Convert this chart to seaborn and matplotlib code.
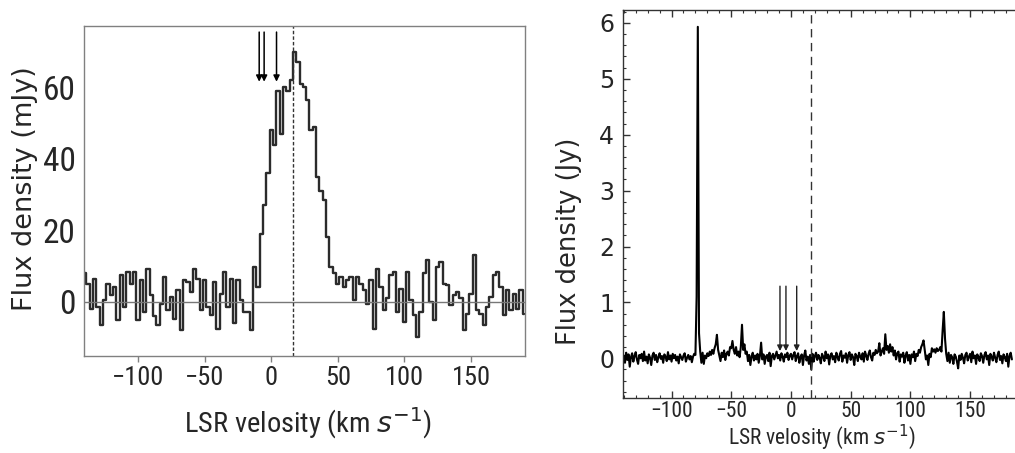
import os
import numpy as np
import pandas as pd
import matplotlib
matplotlib.use("Agg")
import matplotlib.pyplot as plt
import seaborn as sns
from matplotlib import font_manager as fm
from matplotlib.ticker import MultipleLocator

# ---- left panel: weak line, 2.5 km/s channels (mJy) ----
left_v0, left_dv = -140.0, 2.5
left_flux = [
    8, 5, -2, 6.5, -1.5, -6.5, 0.5, 5, 2, 4,
    -5, 7.5, -1.4, 8.4, 5, 8.4, -5, 6, -3, 9.3,
    2, -4, -6.5, -0.5, 7, -2.3, 1.4, -4.7, 3.3, -8,
    6, 5.6, 2.8, 9.3, 6.5, -2.3, 6, -1.4, -3.7, 5.6,
    -7.5, 2.3, 8.4, -1.4, 6.5, -6, 6, 0.5, -3, -3,
    -8, 9.8, 4, 19, 27, 36, 48, 44, 59, 47,
    60, 59, 62, 70, 67, 61, 60, 56.5, 48, 49,
    35, 31, 28.5, 18, 9.8, 8, 5, 7, 4.2, 6,
    7, 0.5, 7, 5, 3.3, -0.5, 6, -7.5, 9.3, 4.2,
    -2.3, 1, 7.5, 8.4, -2.8, 3.7, -5.6, 8.4, 0.5, -3.7,
    -9.8, -2.8, 8, 11.7, 0, -5, 9.8, 11.2, 5, 4.7,
    -1, 1.9, 2.8, 1, -8, -3.3, 2.3, 13, -2.3, -3.3,
    -6.5, -1.4, 1.4, 7.5, 8.4, 4.2, -3.7, 3.3, -2.3, 2.3,
    -1.9, 3.3, -3.3,
]

# ---- right panel: maser spectrum, 1 km/s channels (Jy) ----
right_v0, right_dv = -140.0, 1.0
right_flux = [
    0.05, -0.08, 0.10, -0.03, 0.07, -0.15, 0.02, 0.09, -0.06, 0.04,
    0.11, -0.02, -0.10, 0.06, 0.00, 0.08, -0.05, 0.12, -0.04, 0.03,
    -0.09, 0.07, 0.01, -0.12, 0.05, 0.10, -0.03, 0.06, -0.07, 0.02,
    0.09, -0.01, 0.04, -0.08, 0.07, 0.03, -0.05, 0.11, -0.02, 0.05,
    -0.06, 0.08, 0.00, 0.06, -0.04, 0.03, -0.09, 0.07, 0.02, -0.03,
    0.05, 0.09, -0.06, 0.01, 0.06, -0.02, 0.04, -0.07, 0.03, 0.08,
    0.06, 1.10, 5.93, 0.45, 0.12, -0.08, 0.10, -0.10, 0.05, 0.00,
    0.09, 0.04, 0.12, 0.06, 0.15, 0.08, 0.18, 0.25, 0.42, 0.15,
    0.05, -0.05, 0.10, 0.02, 0.14, -0.03, 0.08, 0.12, 0.05, 0.20,
    0.18, 0.31, 0.15, 0.08, 0.20, 0.05, 0.12, 0.02, 0.20, 0.60,
    0.15, 0.25, 0.08, 0.12, -0.05, 0.06, -0.12, 0.03, 0.10, -0.04,
    0.05, -0.02, 0.08, -0.08, 0.04, 0.28, -0.02, 0.07, -0.10, 0.03,
    0.06, -0.05, 0.10, -0.14, 0.04, 0.08, -0.02, 0.05, 0.12, 0.00,
    0.06, -0.04, 0.09, 0.03, -0.06, 0.07, 0.02, 0.10, -0.03, 0.05,
    0.08, -0.02, 0.06, 0.11, -0.05, 0.04, 0.09, -0.08, 0.02, 0.07,
    -0.12, 0.05, 0.14, -0.04, 0.03, -0.10, 0.06, -0.20, 0.08, -0.06,
    0.04, 0.10, -0.03, 0.06, 0.01, -0.09, 0.08, 0.03, -0.05, 0.12,
    0.00, 0.07, -0.11, 0.05, 0.09, -0.02, 0.04, -0.07, 0.10, 0.02,
    -0.04, 0.08, 0.13, -0.06, 0.05, 0.01, 0.09, -0.08, 0.06, 0.11,
    -0.03, 0.07, 0.02, -0.12, 0.08, 0.04, -0.05, 0.10, 0.03, -0.02,
    0.09, -0.06, 0.12, 0.05, -0.03, 0.08, 0.14, 0.02, -0.04, 0.10,
    0.06, 0.15, 0.09, 0.12, 0.27, 0.05, 0.12, 0.18, 0.08, 0.43,
    0.15, 0.22, 0.10, 0.25, 0.12, 0.20, 0.05, 0.14, -0.02, 0.09,
    0.12, -0.06, 0.07, 0.03, 0.10, -0.08, 0.05, 0.11, -0.04, 0.06,
    -0.10, 0.07, 0.02, 0.12, -0.05, 0.08, 0.04, 0.15, 0.10, 0.20,
    0.25, 0.32, 0.15, -0.02, 0.05, -0.12, 0.08, 0.02, 0.18, 0.12,
    0.16, 0.10, 0.18, 0.13, 0.15, 0.20, 0.12, 0.50, 0.83, 0.35,
    0.08, -0.05, 0.10, -0.08, 0.06, 0.02, -0.10, 0.07, 0.03, -0.06,
    -0.18, 0.05, -0.03, 0.08, 0.01, -0.09, 0.06, 0.10, -0.04, 0.03,
    0.08, -0.07, 0.12, 0.00, 0.05, -0.10, 0.07, 0.02, -0.05, 0.09,
    0.04, -0.08, 0.06, 0.11, -0.02, 0.05, -0.12, 0.08, 0.03, -0.04,
    0.10, 0.01, -0.07, 0.06, 0.12, -0.03, 0.04, -0.09, 0.07, 0.02,
    -0.05, 0.08, -0.15, 0.04, 0.10, -0.02,
]

v_sys = 16.5                          # dashed line
left_arrows = [-9.0, -5.3, 4.0]       # km/s
right_arrows = [-9.2, -4.2, 4.8]
left_arrow_span = (75.5, 61.6)        # mJy, tail -> head
right_arrow_span = (1.29, 0.13)       # Jy
left_xticks = [-100, -50, 0, 50, 100, 150]
left_yticks = [0, 20, 40, 60]
right_xticks = [-100, -50, 0, 50, 100, 150]

df_left = pd.DataFrame({"v": left_v0 + left_dv * np.arange(len(left_flux)),
                        "flux": left_flux})
df_right = pd.DataFrame({"v": right_v0 + right_dv * np.arange(len(right_flux)),
                         "flux": right_flux})

sns.set_style("white")
plt.rcParams["font.family"] = ["DejaVu Sans"]


def pick_narrow():
    # the reference text is horizontally squeezed: use a narrow face if any is installed
    prefs = ["liberationsansnarrow-regular", "robotocondensed-regular",
             "notosans-extracondensed.", "notosans-condensed.", "dejavusanscondensed.",
             "opensans-condensed", "notosans-semicondensed.", "condensed", "narrow"]
    bad = ["bold", "italic", "oblique", "light", "thin", "medium", "black", "semi"]
    best, rank = None, len(prefs)
    for f in fm.fontManager.ttflist:
        fn = os.path.basename(f.fname).lower()
        for i, p in enumerate(prefs):
            if p in fn and i < rank:
                if any(b in fn.replace(p, "") for b in bad):
                    continue
                best, rank = f.fname, i
    return best


narrow_path = pick_narrow()


def fp(size, narrow=True):
    if narrow and narrow_path:
        return fm.FontProperties(fname=narrow_path, size=size)
    return fm.FontProperties(family="DejaVu Sans", size=size)


def lab(ticks):
    return [f"{t:g}".replace("-", "\u2212") for t in ticks]


fig = plt.figure(figsize=(10.15, 4.53), dpi=100)
W, H = 1015.0, 453.0
ax1 = fig.add_axes([84 / W, 97 / H, 441 / W, 330 / H])
ax2 = fig.add_axes([622.7 / W, 55.3 / H, (W - 622.7) / W, 388.2 / H])

# ---------- left ----------
sns.lineplot(data=df_left, x="v", y="flux", ax=ax1, estimator=None, sort=False,
             drawstyle="steps-mid", color="#2b2b2b", lw=1.7)
ax1.axhline(0, color="#777777", lw=1)
ax1.axvline(v_sys, color="#333333", lw=1, ls=(0, (2.5, 1.5)))
for v in left_arrows:
    ax1.annotate("", xy=(v, left_arrow_span[1]), xytext=(v, left_arrow_span[0]),
                 arrowprops=dict(arrowstyle="-|>", color="black", lw=1.1,
                                 mutation_scale=9, shrinkA=0, shrinkB=0))
ax1.set_xlim(-140.5, 190.5)
ax1.set_ylim(-15.2, 77.2)
ax1.set_xticks(left_xticks)
ax1.set_xticklabels(lab(left_xticks), fontproperties=fp(19))
ax1.set_yticks(left_yticks)
ax1.set_yticklabels(lab(left_yticks), fontproperties=fp(24))
for s in ax1.spines.values():
    s.set_color("#808080")
    s.set_linewidth(1)
ax1.tick_params(axis="x", direction="out", length=4, width=1, color="#808080",
                pad=3, bottom=True)
ax1.tick_params(axis="y", length=0, pad=6)
ax1.set_xlabel(r"LSR velosity (km $s^{-1}$)", fontproperties=fp(20.5), va="top")
ax1.xaxis.set_label_coords(0.509, -0.148)
ax1.set_ylabel("Flux density (mJy)", fontproperties=fp(19.5, narrow=False))
ax1.yaxis.set_label_coords(-0.105, 0.508)

# ---------- right ----------
sns.lineplot(data=df_right, x="v", y="flux", ax=ax2, estimator=None, sort=False,
             color="black", lw=1.5)
ax2.axvline(v_sys, color="#333333", lw=1, ls=(0, (6, 4)))
for v in right_arrows:
    ax2.annotate("", xy=(v, right_arrow_span[1]), xytext=(v, right_arrow_span[0]),
                 arrowprops=dict(arrowstyle="-|>", color="#222222", lw=1,
                                 mutation_scale=8, shrinkA=0, shrinkB=0))
ax2.set_xlim(-140.9, 187.6)
ax2.set_ylim(-0.705, 6.24)
ax2.set_xticks(right_xticks)
ax2.set_xticklabels(lab(right_xticks), fontproperties=fp(15.5))
ax2.xaxis.set_minor_locator(MultipleLocator(10))
ax2.yaxis.set_major_locator(MultipleLocator(1))
ax2.yaxis.set_minor_locator(MultipleLocator(0.2))
ax2.spines["right"].set_visible(False)
for k in ["left", "bottom", "top"]:
    ax2.spines[k].set_color("#333333")
    ax2.spines[k].set_linewidth(1)
ax2.tick_params(which="both", direction="in", top=True, bottom=True, left=True,
                right=False, color="#333333")
ax2.tick_params(which="major", length=5, width=1)
ax2.tick_params(which="minor", length=2.5, width=0.8)
ax2.tick_params(axis="x", pad=2.5)
ax2.tick_params(axis="y", labelsize=17, pad=6)
ax2.set_xlabel(r"LSR velosity (km $s^{-1}$)", fontproperties=fp(15.5), va="bottom")
ax2.xaxis.set_label_coords(0.507, -0.139)
ax2.set_ylabel("Flux density (Jy)", fontproperties=fp(18.5, narrow=False))
ax2.yaxis.set_label_coords(-0.104, 0.402)

fig.savefig("out.png", dpi=100)
